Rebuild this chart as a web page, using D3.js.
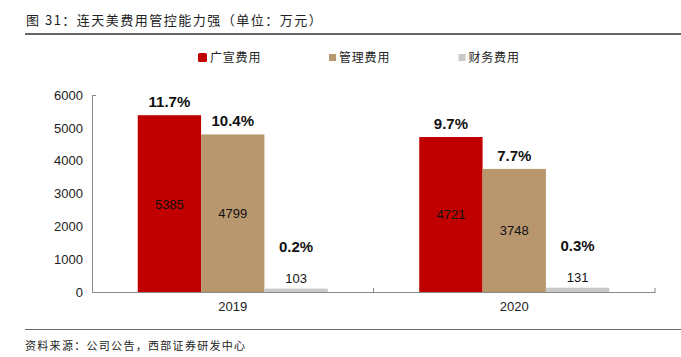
<!DOCTYPE html>
<html><head><meta charset="utf-8">
<script src="https://cdn.jsdelivr.net/npm/d3@7"></script>
<style>body{margin:0;background:#fff;}svg{display:block;}</style>
</head><body>
<script>
const categories = ["2019", "2020"];
const seriesNames = ["广宣费用", "管理费用", "财务费用"];
const sales = [5385, 4721];
const admin = [4799, 3748];
const finance = [103, 131];
const salesPct = ["11.7%", "9.7%"];
const adminPct = ["10.4%", "7.7%"];
const financePct = ["0.2%", "0.3%"];
const yTicks = [0, 1000, 2000, 3000, 4000, 5000, 6000];
const colors = ["#C00000", "#B8976F", "#C9C9C9"];

const W = 681, H = 357;
const svg = d3.select("body").append("svg").attr("width", W).attr("height", H);
const cjk = "'Noto Sans CJK SC','Noto Sans',sans-serif";
const lat = "'Liberation Sans',Arial,sans-serif";

// title
svg.append("text").attr("x", 26).attr("y", 24.5).attr("font-family", cjk).attr("font-size", 13)
  .attr("letter-spacing", 1.5).attr("fill", "#222").text("图 31：连天美费用管控能力强（单位：万元）");
svg.append("line").attr("x1", 25).attr("x2", 681).attr("y1", 34).attr("y2", 34).attr("stroke", "#333").attr("stroke-width", 1.4);
svg.append("line").attr("x1", 25).attr("x2", 681).attr("y1", 329.5).attr("y2", 329.5).attr("stroke", "#666").attr("stroke-width", 1.2);
svg.append("text").attr("x", 25).attr("y", 349.5).attr("font-family", cjk).attr("font-size", 11)
  .attr("letter-spacing", 1.3).attr("fill", "#222").text("资料来源：公司公告，西部证券研发中心");

const x0 = d3.scaleBand().domain(categories).range([92, 655]).paddingInner(0.325).paddingOuter(0.1625);
const x1 = d3.scaleBand().domain(seriesNames).range([0, x0.bandwidth()]);
const y = d3.scaleLinear().domain([0, 6000]).range([292, 95]);

// y axis
const yAxis = svg.append("g").attr("transform", "translate(92,0)")
  .call(d3.axisLeft(y).tickValues(yTicks).tickSize(0).tickPadding(9).tickFormat(d3.format("d")));
yAxis.select(".domain").attr("stroke", "#888");
yAxis.selectAll("text").attr("font-family", lat).attr("font-size", 13).attr("fill", "#222");
svg.append("line").attr("x1", 92).attr("x2", 96).attr("y1", y(6000)+0.5).attr("y2", y(6000)+0.5).attr("stroke", "#888");

const data = categories.map((c, i) => ({
  cat: c,
  vals: [
    {s: seriesNames[0], v: sales[i], p: salesPct[i], c: colors[0]},
    {s: seriesNames[1], v: admin[i], p: adminPct[i], c: colors[1]},
    {s: seriesNames[2], v: finance[i], p: financePct[i], c: colors[2]}
  ]
}));

const g = svg.selectAll(".grp").data(data).enter().append("g").attr("transform", d => `translate(${x0(d.cat)},0)`);
g.selectAll("rect").data(d => d.vals).enter().append("rect")
  .attr("x", d => x1(d.s)).attr("width", x1.bandwidth())
  .attr("y", d => y(d.v)).attr("height", d => y(0) - y(d.v))
  .attr("fill", d => d.c);

// value labels
g.selectAll(".val").data(d => d.vals).enter().append("text")
  .attr("x", d => x1(d.s) + x1.bandwidth()/2)
  .attr("y", (d, i) => i < 2 ? (y(d.v) + y(0))/2 + 5 : y(d.v) - 6)
  .attr("text-anchor", "middle").attr("font-family", lat).attr("font-size", 13).attr("fill", "#111")
  .text(d => d.v);
// percent labels
g.selectAll(".pct").data(d => d.vals).enter().append("text")
  .attr("x", d => x1(d.s) + x1.bandwidth()/2)
  .attr("y", (d, i) => i < 2 ? y(d.v) - 8 : y(d.v) - 37)
  .attr("text-anchor", "middle").attr("font-family", lat).attr("font-size", 15).attr("font-weight", "bold").attr("fill", "#111")
  .text(d => d.p);

// x axis
const xAxis = svg.append("g").attr("transform", "translate(0,292)")
  .call(d3.axisBottom(x0).tickSize(0).tickPadding(10));
xAxis.select(".domain").attr("stroke", "#888");
xAxis.selectAll("text").attr("font-family", lat).attr("font-size", 13).attr("fill", "#222");
[373.5, 655].forEach(xx => svg.append("line").attr("x1", xx).attr("x2", xx).attr("y1", 288).attr("y2", 292).attr("stroke", "#888"));

// legend
const leg = [{x: 198, w: 9, r: 1.5}, {x: 329, w: 7, r: 0}, {x: 458.5, w: 7, r: 0}];
seriesNames.forEach((s, i) => {
  svg.append("rect").attr("x", leg[i].x).attr("y", 57.5 - leg[i].w/2).attr("width", leg[i].w).attr("height", leg[i].w)
    .attr("rx", leg[i].r).attr("fill", colors[i]);
  svg.append("text").attr("x", leg[i].x + leg[i].w + 3).attr("y", 62).attr("font-family", cjk).attr("font-size", 12)
    .attr("letter-spacing", 0.8).attr("fill", "#222").text(s);
});
</script>
</body></html>
